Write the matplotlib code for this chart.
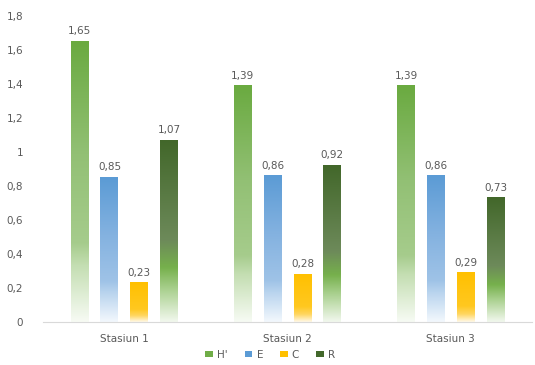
import matplotlib
matplotlib.use("Agg")
import matplotlib.pyplot as plt
import numpy as np
from matplotlib.colors import LinearSegmentedColormap
from matplotlib.patches import Patch

categories = ["Stasiun 1", "Stasiun 2", "Stasiun 3"]
series = ["H'", "E", "C", "R"]
h_vals = [1.65, 1.39, 1.39]
e_vals = [0.85, 0.86, 0.86]
c_vals = [0.23, 0.28, 0.29]
r_vals = [1.07, 0.92, 0.73]
values = [h_vals, e_vals, c_vals, r_vals]
yticks = [0, 0.2, 0.4, 0.6, 0.8, 1.0, 1.2, 1.4, 1.6, 1.8]

solid = ["#70AD47", "#5B9BD5", "#FFC000", "#43682B"]
grads = [
    [(0.0, "#f7fbf4"), (0.2, "#c4deb2"), (0.28, "#a6cc8c"), (0.6, "#92c074"), (1.0, "#6aaa40")],
    [(0.0, "#f3f8fd"), (0.2, "#b9d4ee"), (0.28, "#9fc3e7"), (0.6, "#84b2e0"), (1.0, "#5b9bd5")],
    [(0.0, "#fff9ea"), (0.16, "#ffd660"), (0.32, "#ffc820"), (1.0, "#ffc000")],
    [(0.0, "#f2f8ee"), (0.18, "#a9d08e"), (0.3, "#76b04c"), (0.45, "#6d8a5a"), (1.0, "#42672a")],
]

fig = plt.figure(figsize=(5.35, 3.65), dpi=100)
ax = fig.add_axes([0.080, 0.118, 0.915, 0.838])

n = len(series)
step = 0.183
width = 0.11
x = np.arange(len(categories))

grad_img = np.linspace(0, 1, 256).reshape(-1, 1)
for i, (vals, g) in enumerate(zip(values, grads)):
    cmap = LinearSegmentedColormap.from_list(f"g{i}", g)
    offs = (i - (n - 1) / 2) * step
    bars = ax.bar(x + offs, vals, width, color="none", edgecolor="none")
    for b, v in zip(bars, vals):
        x0 = b.get_x()
        ax.imshow(grad_img, cmap=cmap, origin="lower", aspect="auto",
                  extent=[x0, x0 + width, 0, v], zorder=2, interpolation="bilinear")
        ax.text(x0 + width / 2, v + 0.03, f"{v:.2f}".replace(".", ","),
                ha="center", va="bottom", fontsize=7.5, color="#595959")

ax.set_xlim(-0.5, len(categories) - 0.5)
ax.set_ylim(0, 1.8)
ax.set_xticks(x)
ax.set_xticklabels(categories, fontsize=7.5, color="#595959")
ax.set_yticks(yticks)
ax.set_yticklabels([f"{t:g}".replace(".", ",") for t in yticks], fontsize=7.5, color="#595959")
ax.tick_params(axis="both", length=0, pad=9)
ax.tick_params(axis="y", pad=14)
for s in ["top", "right", "left"]:
    ax.spines[s].set_visible(False)
ax.spines["bottom"].set_color("#d9d9d9")

handles = [Patch(facecolor=c, edgecolor="none") for c in solid]
fig.legend(handles, series, loc="lower center", bbox_to_anchor=(0.505, -0.012), ncol=4,
           frameon=False, fontsize=7.5, handlelength=0.75, handleheight=0.45,
           columnspacing=1.6, handletextpad=0.4, labelcolor="#595959")

fig.savefig("out.png", dpi=100)
